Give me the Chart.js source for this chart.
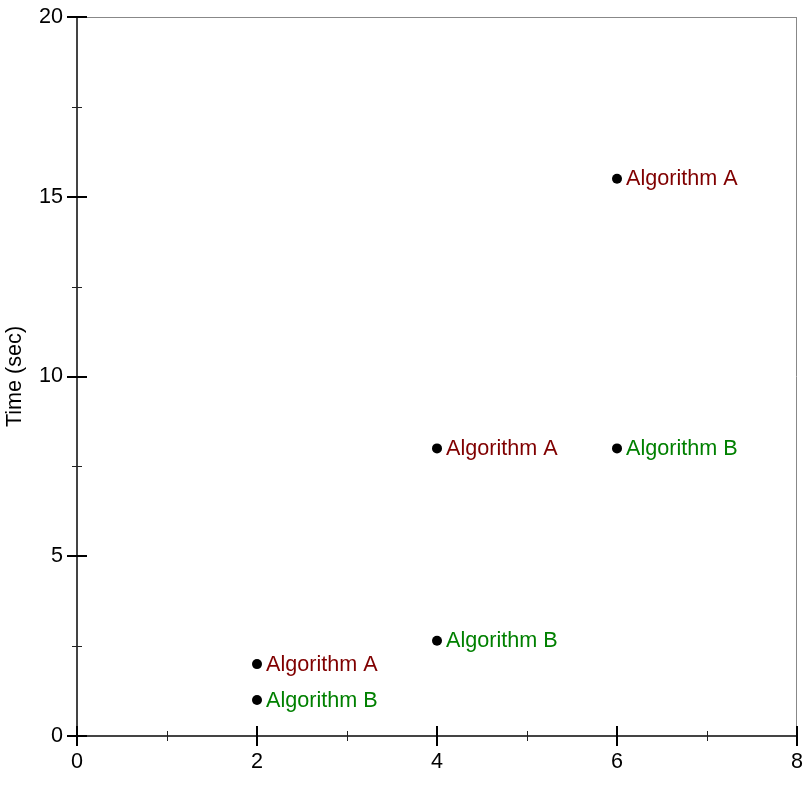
<!DOCTYPE html>
<html lang="en">
<head>
    <meta charset="UTF-8">
    <title>Time (sec)</title>
    <script src="https://cdn.jsdelivr.net/npm/chart.js@4.4.1/dist/chart.umd.min.js"></script>
    <style>
        body { margin: 0; background: #fff; }
        #wrap { width: 812px; height: 812px; }
    </style>
</head>
<body>
<div id="wrap"><canvas id="myChart" width="812" height="812"></canvas></div>

<script type="text/javascript">
    // data
    var seriesNames = ["Algorithm A", "Algorithm B"];
    var seriesColors = ["#800000", "#008000"];
    var xA = [2, 4, 6];
    var yA = [2, 8, 15.5];
    var xB = [2, 4, 6];
    var yB = [1, 2.65, 8];
    var xTicks = [0, 2, 4, 6, 8];
    var yTicks = [0, 5, 10, 15, 20];
    var xMinor = [1, 3, 5, 7];
    var yMinor = [2.5, 7.5, 12.5, 17.5];

    var FONT = "Liberation Sans, Arial, Helvetica, sans-serif";
    var FS = 21.6;

    function toPoints(xs, ys) {
        var out = [];
        for (var i = 0; i < xs.length; i++) out.push({x: xs[i], y: ys[i]});
        return out;
    }

    // frame, ticks and point labels
    var decor = {
        id: "decor",
        afterDatasetsDraw: function (chart) {
            var c = chart.ctx, a = chart.chartArea;
            var sx = chart.scales.x, sy = chart.scales.y;
            c.save();
            // top / right border
            c.strokeStyle = "#888";
            c.lineWidth = 1;
            c.beginPath();
            c.moveTo(a.left, a.top + 0.5); c.lineTo(a.right, a.top + 0.5);
            c.moveTo(a.right - 0.5, a.top); c.lineTo(a.right - 0.5, a.bottom);
            c.stroke();
            // left / bottom axis
            c.strokeStyle = "#444";
            c.lineWidth = 2;
            c.beginPath();
            c.moveTo(a.left, a.top); c.lineTo(a.left, a.bottom);
            c.moveTo(a.left, a.bottom); c.lineTo(a.right, a.bottom);
            c.stroke();
            // minor ticks
            c.strokeStyle = "#222";
            c.lineWidth = 1;
            c.beginPath();
            xMinor.forEach(function (v) {
                var px = Math.round(sx.getPixelForValue(v)) + 0.5;
                c.moveTo(px, a.bottom - 5); c.lineTo(px, a.bottom + 5);
            });
            yMinor.forEach(function (v) {
                var py = Math.round(sy.getPixelForValue(v)) + 0.5;
                c.moveTo(a.left - 5, py); c.lineTo(a.left + 5, py);
            });
            c.stroke();
            // major ticks
            c.strokeStyle = "#000";
            c.lineWidth = 2;
            c.beginPath();
            xTicks.forEach(function (v) {
                var px = Math.round(sx.getPixelForValue(v));
                c.moveTo(px, a.bottom - 10); c.lineTo(px, a.bottom + 10);
            });
            yTicks.forEach(function (v) {
                var py = Math.round(sy.getPixelForValue(v));
                c.moveTo(a.left - 10, py); c.lineTo(a.left + 10, py);
            });
            c.stroke();
            // point labels
            c.font = FS + "px " + FONT;
            c.textAlign = "left";
            c.textBaseline = "middle";
            chart.data.datasets.forEach(function (ds, i) {
                c.fillStyle = seriesColors[i];
                ds.data.forEach(function (p) {
                    c.fillText(seriesNames[i], sx.getPixelForValue(p.x) + 9, sy.getPixelForValue(p.y) + 0.5);
                });
            });
            c.restore();
        }
    };

    var ctx = document.getElementById("myChart");
    new Chart(ctx, {
        "type": "scatter",
        "data": {
            "datasets": [{
                "label": seriesNames[0],
                "data": toPoints(xA, yA),
                "pointRadius": 5,
                "pointBackgroundColor": "#000",
                "pointBorderWidth": 0
            }, {
                "label": seriesNames[1],
                "data": toPoints(xB, yB),
                "pointRadius": 5,
                "pointBackgroundColor": "#000",
                "pointBorderWidth": 0
            }]
        },
        "options": {
            "responsive": false,
            "animation": false,
            "events": [],
            "layout": {"padding": {"top": 17, "right": 15, "left": 1, "bottom": 0}},
            "plugins": {"legend": {"display": false}, "tooltip": {"enabled": false}},
            "scales": {
                "x": {
                    "type": "linear",
                    "min": 0, "max": 8,
                    "grid": {"display": false, "drawTicks": false},
                    "border": {"display": false},
                    "afterBuildTicks": function (s) { s.ticks = xTicks.map(function (v) { return {value: v}; }); },
                    "afterFit": function (s) { s.height = 76; s.paddingLeft = 0; s.paddingRight = 0; },
                    "ticks": {"color": "#000", "padding": 13, "maxRotation": 0, "font": {"size": FS, "family": FONT}}
                },
                "y": {
                    "type": "linear",
                    "min": 0, "max": 20,
                    "grid": {"display": false, "drawTicks": false},
                    "border": {"display": false},
                    "afterBuildTicks": function (s) { s.ticks = yTicks.map(function (v) { return {value: v}; }); },
                    "afterFit": function (s) { s.width = 76; s.paddingTop = 0; s.paddingBottom = 0; },
                    "title": {"display": true, "text": "Time (sec)", "color": "#000", "padding": {"top": 1, "bottom": 0}, "font": {"size": FS, "family": FONT}},
                    "ticks": {"color": "#000", "padding": 14, "font": {"size": FS, "family": FONT}}
                }
            }
        },
        "plugins": [decor]
    });
</script>
</body>
</html>
